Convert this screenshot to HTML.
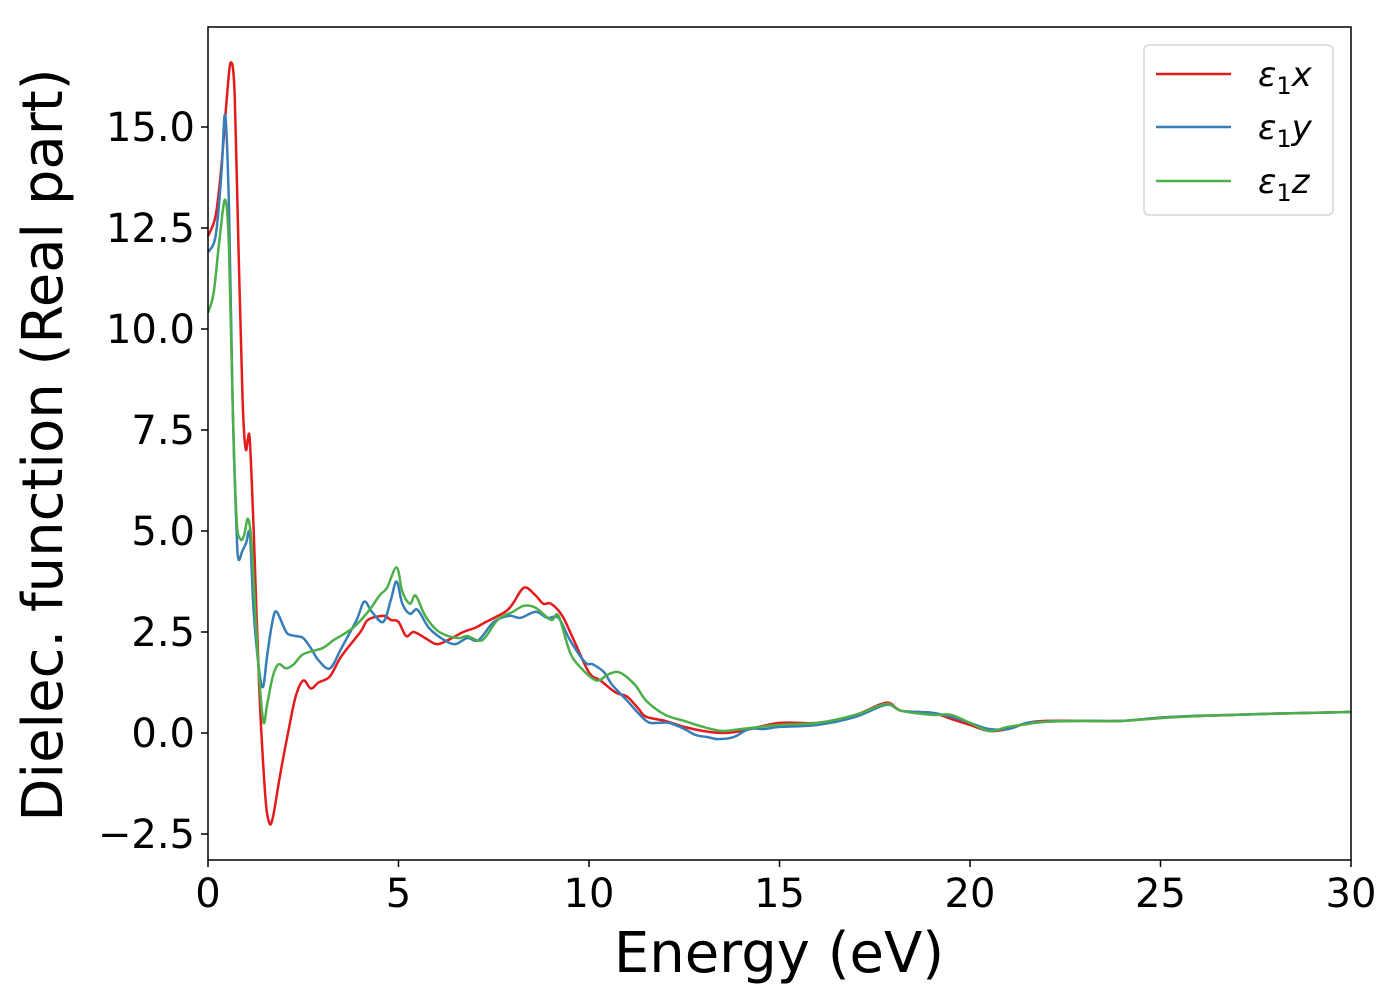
<!DOCTYPE html>
<html><head><meta charset="utf-8"><style>
html,body{margin:0;padding:0;background:#fff;}
svg{display:block;font-family:"DejaVu Sans","Liberation Sans",sans-serif;}
</style></head><body>
<svg id="chart" width="1400" height="1000">
<rect x="0" y="0" width="1400" height="1000" fill="#fff"/>
<g id="series"></g>
<g id="axes"></g>
<rect x="208" y="27" width="1143" height="833" fill="none" stroke="#000" stroke-width="1.5"/>
<text x="779" y="972" font-size="56" text-anchor="middle">Energy (eV)</text>
<text transform="translate(62,445) rotate(-90)" font-size="56" text-anchor="middle">Dielec. function (Real part)</text>
<g>
<rect x="1144" y="45" width="189" height="170" rx="5" fill="#fff" stroke="#d6d6d6" stroke-width="1.5"/>
<line x1="1156" y1="74" x2="1231" y2="74" stroke="#e41a1c" stroke-width="2.5"/>
<line x1="1156" y1="127" x2="1231" y2="127" stroke="#377eb8" stroke-width="2.5"/>
<line x1="1156" y1="181" x2="1231" y2="181" stroke="#4daf4a" stroke-width="2.5"/>
<text x="1258" y="86" font-size="34" font-style="italic">ε<tspan font-style="normal" font-size="24" dy="8">1</tspan><tspan dy="-8">x</tspan></text>
<text x="1258" y="139" font-size="34" font-style="italic">ε<tspan font-style="normal" font-size="24" dy="8">1</tspan><tspan dy="-8">y</tspan></text>
<text x="1258" y="193" font-size="34" font-style="italic">ε<tspan font-style="normal" font-size="24" dy="8">1</tspan><tspan dy="-8">z</tspan></text>
</g>
</svg>
<script>
const xTicks=[0,5,10,15,20,25,30];
const xTickLabels=["0","5","10","15","20","25","30"];
const yTicks=[-2.5,0,2.5,5,7.5,10,12.5,15];
const yTickLabels=["\u22122.5","0.0","2.5","5.0","7.5","10.0","12.5","15.0"];
const redE=[0,0.2,0.35,0.5,0.6,0.7,0.8,0.9,0.95,1.0,1.05,1.1,1.2,1.35,1.5,1.6,1.7,1.9,2.1,2.3,2.5,2.7,2.9,3.2,3.5,4,4.2,4.6,4.8,5.0,5.2,5.4,5.7,6.0,6.3,6.7,7.0,7.3,7.8,8.0,8.3,8.6,8.8,9.0,9.3,9.6,10,10.3,10.7,11,11.3,11.5,12,12.5,13,13.5,14,15,16,17,17.8,18.2,19,19.5,20,20.5,21,21.5,22,23,24,25,26,27,28,30];
const redV=[12.3,12.8,14,15.8,16.6,15.8,12,8.5,7.4,7.0,7.3,7.2,5,1,-1.5,-2.2,-2.1,-1,0,0.9,1.3,1.1,1.25,1.4,1.9,2.5,2.8,2.9,2.8,2.75,2.4,2.5,2.35,2.2,2.3,2.5,2.6,2.75,3.0,3.2,3.6,3.4,3.2,3.2,2.9,2.3,1.5,1.3,1.0,0.9,0.6,0.4,0.3,0.15,0.05,0.0,0.05,0.25,0.25,0.45,0.75,0.55,0.5,0.35,0.2,0.05,0.1,0.25,0.3,0.3,0.3,0.38,0.42,0.45,0.48,0.52];
const blueE=[0,0.2,0.35,0.45,0.55,0.65,0.75,0.8,0.9,1.0,1.1,1.2,1.35,1.45,1.55,1.7,1.8,2.0,2.1,2.3,2.5,2.7,2.9,3.2,3.5,3.9,4.1,4.3,4.6,4.8,4.95,5.1,5.3,5.5,5.8,6.2,6.5,6.8,7.1,7.5,7.9,8.2,8.6,8.9,9.2,9.5,9.9,10.1,10.4,10.6,11,11.5,11.8,12.1,12.5,12.8,13.1,13.4,13.8,14.2,14.6,15,16,17,17.8,18.2,19,19.5,20,20.5,21,21.5,22,23,24,25,26,27,28,30];
const blueV=[11.9,12.3,13.8,15.3,13,8,5,4.3,4.5,4.7,4.9,3,1.5,1.15,1.9,2.8,3.0,2.6,2.45,2.4,2.35,2.1,1.8,1.6,2.1,2.8,3.25,3.0,2.75,3.3,3.75,3.2,2.95,3.05,2.6,2.3,2.2,2.35,2.3,2.75,2.9,2.85,3.0,2.85,2.85,2.3,1.75,1.7,1.5,1.2,0.8,0.3,0.25,0.25,0.1,-0.05,-0.1,-0.15,-0.1,0.1,0.1,0.15,0.2,0.4,0.7,0.55,0.5,0.4,0.25,0.1,0.1,0.25,0.28,0.3,0.3,0.38,0.43,0.45,0.48,0.52];
const greenE=[0,0.15,0.3,0.45,0.55,0.65,0.75,0.85,0.95,1.05,1.15,1.3,1.45,1.55,1.7,1.85,2.05,2.25,2.5,3.0,3.3,3.8,4.2,4.5,4.7,4.95,5.1,5.3,5.45,5.7,6.0,6.3,6.6,6.8,7.2,7.6,8.0,8.3,8.6,9.0,9.2,9.5,9.8,10.2,10.5,10.8,11.2,11.5,12,12.5,13,13.5,14,15,16,17,17.8,18.2,19,19.5,20,20.5,21,21.5,22,23,24,25,26,27,28,30];
const greenV=[10.4,10.9,12.2,13.2,12,8,5.3,4.8,4.9,5.3,4.6,2.0,0.3,0.7,1.4,1.7,1.6,1.7,1.95,2.1,2.3,2.6,3.0,3.4,3.6,4.1,3.5,3.2,3.4,2.9,2.55,2.4,2.35,2.4,2.3,2.8,3.0,3.15,3.1,2.8,2.9,2.0,1.6,1.3,1.45,1.5,1.2,0.8,0.45,0.3,0.15,0.05,0.1,0.2,0.25,0.45,0.72,0.55,0.45,0.45,0.25,0.05,0.15,0.22,0.28,0.3,0.3,0.37,0.42,0.45,0.48,0.52];
const X0=208,X1=1351,Y0=733,PX_PER_UNIT=40.4;
function xs(e){return X0+(e-0)/(30-0)*(X1-X0);}
function ys(v){return Y0-v*PX_PER_UNIT;}
const NS="http://www.w3.org/2000/svg";
function smooth(E,V){
  const p=E.map((e,i)=>[xs(e),ys(V[i])]);
  let d="M"+p[0][0].toFixed(1)+","+p[0][1].toFixed(1);
  for(let i=0;i<p.length-1;i++){
    const a=p[Math.max(0,i-1)],b=p[i],c=p[i+1],n=p[Math.min(p.length-1,i+2)];
    const c1=[b[0]+(c[0]-a[0])/6,b[1]+(c[1]-a[1])/6];
    const c2=[c[0]-(n[0]-b[0])/6,c[1]-(n[1]-b[1])/6];
    d+=" C"+c1.map(v=>v.toFixed(1))+" "+c2.map(v=>v.toFixed(1))+" "+c[0].toFixed(1)+","+c[1].toFixed(1);
  }
  return d;
}
const sg=document.getElementById("series");
[[redE,redV,"#e41a1c","series-epsilon1-x"],[blueE,blueV,"#377eb8","series-epsilon1-y"],[greenE,greenV,"#4daf4a","series-epsilon1-z"]].forEach(s=>{
  const path=document.createElementNS(NS,"path");
  path.setAttribute("d",smooth(s[0],s[1]));
  path.setAttribute("fill","none");
  path.setAttribute("stroke",s[2]);
  path.setAttribute("stroke-width","2.5");
  path.setAttribute("stroke-linejoin","round");
  
  
  sg.appendChild(path);
});
const ag=document.getElementById("axes");
xTicks.forEach((t,i)=>{
  const l=document.createElementNS(NS,"line");
  l.setAttribute("x1",xs(t));l.setAttribute("x2",xs(t));
  l.setAttribute("y1",860);l.setAttribute("y2",867);
  l.setAttribute("stroke","#000");l.setAttribute("stroke-width","1.5");
  
  
  ag.appendChild(l);
  const tx=document.createElementNS(NS,"text");
  tx.setAttribute("x",xs(t));tx.setAttribute("y",907);
  tx.setAttribute("font-size","40");tx.setAttribute("text-anchor","middle");
  tx.textContent=xTickLabels[i];
  
  
  ag.appendChild(tx);
});
yTicks.forEach((t,i)=>{
  const l=document.createElementNS(NS,"line");
  l.setAttribute("x1",201);l.setAttribute("x2",208);
  l.setAttribute("y1",ys(t));l.setAttribute("y2",ys(t));
  l.setAttribute("stroke","#000");l.setAttribute("stroke-width","1.5");
  
  
  ag.appendChild(l);
  const tx=document.createElementNS(NS,"text");
  tx.setAttribute("x",195);tx.setAttribute("y",ys(t)+14);
  tx.setAttribute("font-size","40");tx.setAttribute("text-anchor","end");
  tx.textContent=yTickLabels[i];
  
  
  ag.appendChild(tx);
});
</script>
</body></html>
